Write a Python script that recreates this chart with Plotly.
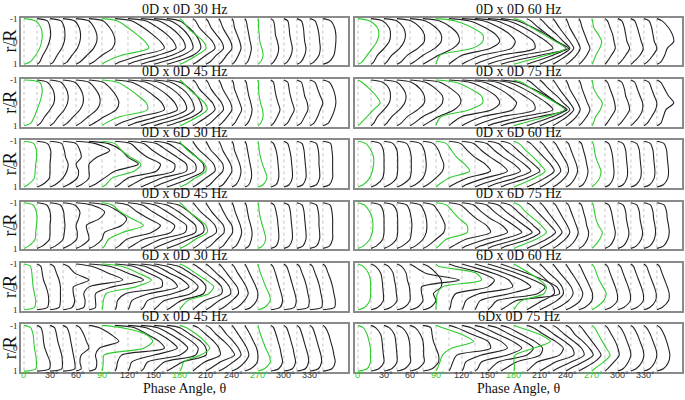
import plotly.graph_objects as go

# phase angles of the profiles (deg) and radial stations r/R
ANGLES = list(range(0, 360, 15))
R_IN = [-0.9, -0.6, -0.3, 0, 0.3, 0.6, 0.9]
TICK_ANGLES = list(range(0, 360, 30))
GREEN_ANGLES = [0, 90, 180, 270]

TITLES = ["0D x 0D 30 Hz", "0D x 0D 60 Hz",
          "0D x 0D 45 Hz", "0D x 0D 75 Hz",
          "0D x 6D 30 Hz", "0D x 6D 60 Hz",
          "0D x 6D 45 Hz", "0D x 6D 75 Hz",
          "6D x 0D 30 Hz", "6D x 0D 60 Hz",
          "6D x 0D 45 Hz", "6Dx 0D 75 Hz"]

# profile displacement (in 15 deg steps) at R_IN, one row per phase angle
P_00_30 = [
    [0.9, 1.3, 1.4, 1.35, 1.2, 0.9, 0.45],
    [0.8, 1.0, 1.05, 0.95, 0.75, 0.45, 0.2],
    [0.85, 1.1, 1.15, 1.1, 0.9, 0.55, 0.25],
    [0.9, 1.25, 1.35, 1.3, 1.1, 0.7, 0.3],
    [1.0, 1.4, 1.6, 1.6, 1.35, 0.85, 0.3],
    [1.1, 1.6, 1.9, 2.0, 1.8, 1.0, 0.35],
    [1.2, 2.0, 2.7, 3.3, 3.6, 1.5, 0.25],
    [1.3, 2.2, 2.9, 3.5, 3.8, 2.0, 0.35],
    [1.4, 2.3, 3.0, 3.5, 3.7, 2.3, 0.45],
    [1.4, 2.3, 2.9, 3.3, 3.4, 2.4, 0.55],
    [1.3, 2.1, 2.6, 2.9, 3.0, 2.2, 0.6],
    [1.0, 1.7, 2.2, 2.5, 2.6, 2.0, 0.6],
    [0.2, 0.6, 1.2, 1.8, 2.0, 1.3, 0.4],
    [0.2, 0.5, 1.0, 1.5, 1.7, 1.0, 0.3],
    [0.15, 0.4, 0.8, 1.2, 1.35, 0.8, 0.3],
    [0.1, 0.3, 0.6, 0.9, 1.0, 0.6, 0.2],
    [0.1, 0.2, 0.4, 0.6, 0.7, 0.5, 0.2],
    [0.1, 0.2, 0.3, 0.4, 0.5, 0.4, 0.2],
    [0.05, 0.05, 0.1, 0.15, 0.3, 0.4, 0.2],
    [0.2, 0.3, 0.35, 0.5, 0.6, 0.5, 0.2],
    [0.3, 0.4, 0.45, 0.55, 0.65, 0.55, 0.25],
    [0.35, 0.5, 0.55, 0.6, 0.7, 0.6, 0.3],
    [0.4, 0.6, 0.7, 0.75, 0.8, 0.7, 0.3],
    [0.6, 0.9, 1.0, 1.0, 0.95, 0.85, 0.45],
]
P_00_60 = [
    [0.9, 1.5, 1.6, 1.45, 1.1, 0.7, 0.3],
    [0.9, 1.4, 1.5, 1.4, 1.0, 0.5, 0.2],
    [1.0, 1.5, 1.65, 1.55, 1.2, 0.6, 0.2],
    [1.1, 1.8, 2.1, 2.1, 1.6, 0.8, 0.3],
    [1.2, 2.0, 2.4, 2.4, 1.9, 1.0, 0.3],
    [1.3, 2.2, 2.7, 2.8, 2.3, 1.2, 0.3],
    [1.5, 2.8, 3.6, 3.6, 2.8, 0.3, 0.05],
    [1.6, 2.8, 3.6, 3.9, 3.2, 1.0, 0.2],
    [1.7, 2.9, 3.7, 4.1, 3.8, 1.5, 0.3],
    [1.7, 2.9, 3.8, 4.5, 4.6, 2.0, 0.4],
    [1.6, 2.8, 3.7, 4.5, 5.0, 2.6, 0.5],
    [1.3, 2.5, 3.5, 4.3, 5.2, 3.0, 0.6],
    [0.6, 1.4, 2.3, 3.2, 4.0, 2.5, 0.6],
    [0.3, 0.9, 1.6, 2.3, 3.0, 2.0, 0.5],
    [0.2, 0.7, 1.3, 1.8, 2.3, 1.6, 0.4],
    [0.15, 0.5, 0.9, 1.3, 1.6, 1.1, 0.3],
    [0.1, 0.3, 0.6, 0.9, 1.1, 0.8, 0.25],
    [0.1, 0.25, 0.45, 0.65, 0.85, 0.6, 0.2],
    [0.05, 0.15, 0.5, 0.75, 0.6, 0.3, 0.1],
    [0.2, 0.4, 0.6, 0.7, 0.8, 0.5, 0.15],
    [0.3, 0.5, 0.6, 0.7, 0.9, 0.6, 0.2],
    [0.3, 0.5, 0.65, 0.8, 0.95, 0.7, 0.2],
    [0.4, 0.6, 0.7, 0.8, 1.0, 0.7, 0.25],
    [0.4, 0.9, 1.2, 1.3, 0.8, 0.6, 0.3],
]
P_00_45 = [
    [1.2, 1.4, 1.35, 1.2, 1.0, 0.8, 0.5],
    [0.8, 1.2, 1.35, 1.3, 1.0, 0.6, 0.25],
    [0.85, 1.25, 1.4, 1.35, 1.1, 0.65, 0.25],
    [0.9, 1.35, 1.55, 1.55, 1.3, 0.8, 0.3],
    [1.0, 1.5, 1.8, 1.85, 1.6, 0.95, 0.3],
    [1.1, 1.7, 2.1, 2.3, 2.1, 1.2, 0.35],
    [1.2, 2.1, 2.8, 3.4, 3.5, 1.4, 0.25],
    [1.3, 2.3, 3.0, 3.6, 3.8, 1.9, 0.35],
    [1.4, 2.4, 3.1, 3.6, 3.8, 2.3, 0.45],
    [1.4, 2.4, 3.0, 3.4, 3.5, 2.4, 0.55],
    [1.3, 2.2, 2.7, 3.0, 3.1, 2.3, 0.6],
    [1.0, 1.8, 2.3, 2.6, 2.7, 2.0, 0.6],
    [0.2, 0.7, 1.3, 1.9, 2.1, 1.4, 0.4],
    [0.2, 0.5, 1.0, 1.5, 1.7, 1.1, 0.3],
    [0.15, 0.4, 0.8, 1.2, 1.35, 0.85, 0.3],
    [0.1, 0.3, 0.6, 0.9, 1.0, 0.65, 0.2],
    [0.1, 0.2, 0.4, 0.6, 0.75, 0.5, 0.2],
    [0.1, 0.2, 0.3, 0.45, 0.55, 0.45, 0.2],
    [0.05, 0.05, 0.1, 0.2, 0.35, 0.4, 0.2],
    [0.2, 0.3, 0.4, 0.55, 0.7, 0.5, 0.2],
    [0.3, 0.4, 0.5, 0.65, 0.8, 0.55, 0.25],
    [0.35, 0.5, 0.6, 0.8, 0.85, 0.6, 0.3],
    [0.4, 0.6, 0.8, 1.0, 0.8, 0.6, 0.3],
    [0.5, 0.8, 0.95, 1.0, 0.9, 0.7, 0.4],
]
P_00_75 = [
    [0.3, 0.9, 1.4, 1.7, 1.2, 0.7, 0.2],
    [0.9, 1.4, 1.5, 1.4, 1.0, 0.5, 0.2],
    [1.0, 1.5, 1.7, 1.6, 1.2, 0.6, 0.2],
    [1.1, 1.8, 2.1, 2.1, 1.6, 0.8, 0.3],
    [1.2, 2.0, 2.5, 2.5, 2.0, 1.0, 0.3],
    [1.3, 2.2, 2.8, 2.9, 2.4, 1.2, 0.3],
    [1.5, 2.7, 3.5, 3.6, 2.6, 0.4, 0.05],
    [1.6, 2.8, 3.6, 3.9, 3.3, 1.0, 0.2],
    [1.7, 2.9, 3.7, 4.2, 3.9, 1.6, 0.3],
    [1.7, 2.9, 3.8, 4.5, 4.6, 2.1, 0.4],
    [1.6, 2.8, 3.7, 4.5, 5.0, 2.7, 0.5],
    [1.3, 2.5, 3.5, 4.3, 5.1, 3.0, 0.6],
    [0.6, 1.4, 2.3, 3.2, 3.9, 2.5, 0.6],
    [0.3, 0.9, 1.6, 2.3, 3.0, 2.0, 0.5],
    [0.2, 0.7, 1.3, 1.8, 2.3, 1.6, 0.4],
    [0.15, 0.5, 0.9, 1.3, 1.6, 1.1, 0.3],
    [0.1, 0.3, 0.6, 0.9, 1.1, 0.8, 0.25],
    [0.1, 0.25, 0.45, 0.65, 0.85, 0.6, 0.2],
    [0.05, 0.15, 0.45, 0.8, 0.65, 0.3, 0.1],
    [0.2, 0.4, 0.6, 0.75, 0.8, 0.5, 0.15],
    [0.3, 0.5, 0.6, 0.8, 0.9, 0.6, 0.2],
    [0.3, 0.5, 0.7, 0.9, 0.9, 0.65, 0.2],
    [0.4, 0.6, 0.8, 1.0, 0.9, 0.6, 0.25],
    [0.3, 0.6, 0.9, 1.3, 0.7, 0.5, 0.3],
]
P_06_30 = [
    [0.75, 0.95, 0.97, 0.9, 0.85, 0.8, 0.3],
    [0.8, 1.05, 1.05, 1.0, 1.0, 0.95, 0.4],
    [0.9, 1.1, 1.2, 1.4, 1.3, 1.0, 0.4],
    [1.0, 1.3, 1.4, 1.0, 1.2, 1.1, 0.4],
    [1.5, 2.6, 1.6, 1.0, 1.0, 1.0, 0.4],
    [1.5, 2.5, 3.0, 3.8, 2.0, 1.2, 0.4],
    [1.0, 1.5, 2.2, 3.0, 2.5, 0.8, 0.3],
    [1.2, 1.8, 2.5, 3.5, 3.2, 1.0, 0.3],
    [1.2, 1.9, 2.7, 3.6, 3.5, 1.3, 0.3],
    [1.2, 2.0, 2.8, 3.5, 3.5, 1.6, 0.4],
    [1.1, 1.9, 2.6, 3.2, 3.2, 1.8, 0.4],
    [1.0, 1.7, 2.3, 2.8, 2.8, 1.8, 0.5],
    [0.1, 0.6, 1.3, 1.9, 2.0, 1.2, 0.4],
    [0.1, 0.5, 1.1, 1.6, 1.7, 1.0, 0.3],
    [0.1, 0.4, 0.9, 1.3, 1.3, 0.8, 0.3],
    [0.1, 0.3, 0.6, 0.9, 1.0, 0.7, 0.3],
    [0.1, 0.2, 0.4, 0.6, 0.7, 0.6, 0.3],
    [0.1, 0.2, 0.3, 0.4, 0.5, 0.5, 0.3],
    [0.05, 0.1, 0.2, 0.35, 0.55, 0.7, 0.4],
    [0.2, 0.4, 0.5, 0.55, 0.6, 0.6, 0.4],
    [0.3, 0.45, 0.55, 0.6, 0.65, 0.65, 0.4],
    [0.4, 0.55, 0.6, 0.65, 0.7, 0.7, 0.45],
    [0.5, 0.65, 0.7, 0.7, 0.75, 0.75, 0.5],
    [0.6, 0.7, 0.75, 0.75, 0.75, 0.75, 0.5],
]
P_06_60 = [
    [0.6, 1.0, 1.2, 1.2, 1.1, 0.9, 0.4],
    [0.7, 0.95, 1.0, 1.0, 1.0, 0.9, 0.4],
    [0.7, 1.0, 1.05, 1.05, 1.05, 0.95, 0.4],
    [0.75, 1.0, 1.1, 1.1, 1.1, 1.0, 0.4],
    [0.8, 1.1, 1.2, 1.25, 1.2, 1.0, 0.4],
    [0.8, 1.2, 1.4, 1.6, 1.5, 1.0, 0.35],
    [0.8, 1.2, 1.6, 2.2, 2.6, 1.0, 0.2],
    [0.9, 1.4, 2.0, 2.8, 3.2, 1.4, 0.3],
    [0.9, 1.5, 2.2, 3.0, 3.5, 1.8, 0.3],
    [0.9, 1.5, 2.2, 3.0, 3.5, 2.0, 0.4],
    [0.8, 1.4, 2.1, 2.8, 3.3, 2.1, 0.4],
    [0.7, 1.3, 1.9, 2.5, 3.0, 2.0, 0.4],
    [0.4, 0.9, 1.5, 2.0, 2.4, 1.6, 0.4],
    [0.3, 0.8, 1.3, 1.8, 2.1, 1.4, 0.4],
    [0.2, 0.6, 1.0, 1.4, 1.6, 1.1, 0.35],
    [0.2, 0.5, 0.8, 1.1, 1.2, 0.9, 0.3],
    [0.2, 0.4, 0.6, 0.8, 0.9, 0.7, 0.3],
    [0.2, 0.35, 0.5, 0.6, 0.7, 0.6, 0.3],
    [0.1, 0.2, 0.3, 0.5, 0.7, 0.6, 0.2],
    [0.3, 0.5, 0.6, 0.65, 0.7, 0.65, 0.35],
    [0.4, 0.6, 0.65, 0.7, 0.75, 0.7, 0.4],
    [0.45, 0.65, 0.7, 0.75, 0.8, 0.75, 0.4],
    [0.5, 0.7, 0.75, 0.8, 0.85, 0.8, 0.45],
    [0.55, 0.75, 0.8, 0.85, 0.9, 0.85, 0.5],
]
P_06_45 = [
    [0.7, 0.95, 1.0, 0.95, 0.9, 0.85, 0.35],
    [0.75, 1.0, 1.05, 1.0, 1.0, 0.95, 0.4],
    [0.8, 1.05, 1.1, 1.15, 1.1, 1.0, 0.4],
    [0.9, 1.3, 1.2, 1.0, 1.1, 1.05, 0.4],
    [1.2, 2.2, 1.8, 0.8, 0.9, 1.0, 0.4],
    [1.3, 2.3, 2.9, 2.5, 1.2, 1.0, 0.4],
    [0.8, 1.4, 2.3, 3.2, 1.6, 0.5, 0.2],
    [1.0, 1.7, 2.6, 3.5, 2.8, 0.9, 0.3],
    [1.1, 1.9, 2.8, 3.6, 3.3, 1.2, 0.3],
    [1.1, 2.0, 2.8, 3.5, 3.4, 1.5, 0.4],
    [1.0, 1.9, 2.6, 3.2, 3.2, 1.7, 0.4],
    [0.9, 1.7, 2.3, 2.8, 2.8, 1.7, 0.5],
    [0.2, 0.7, 1.4, 2.0, 2.1, 1.2, 0.4],
    [0.15, 0.6, 1.2, 1.7, 1.8, 1.0, 0.3],
    [0.1, 0.45, 0.9, 1.35, 1.4, 0.85, 0.3],
    [0.1, 0.35, 0.65, 1.0, 1.05, 0.7, 0.3],
    [0.1, 0.25, 0.45, 0.65, 0.75, 0.6, 0.3],
    [0.1, 0.2, 0.3, 0.45, 0.55, 0.5, 0.3],
    [0.05, 0.1, 0.2, 0.35, 0.5, 0.6, 0.35],
    [0.25, 0.4, 0.5, 0.55, 0.6, 0.6, 0.4],
    [0.35, 0.5, 0.55, 0.6, 0.65, 0.65, 0.4],
    [0.4, 0.55, 0.6, 0.65, 0.7, 0.7, 0.45],
    [0.5, 0.65, 0.7, 0.7, 0.75, 0.75, 0.5],
    [0.55, 0.7, 0.75, 0.75, 0.75, 0.75, 0.5],
]
P_06_75 = [
    [0.5, 0.9, 1.1, 1.15, 1.1, 0.9, 0.4],
    [0.7, 0.95, 1.0, 1.0, 1.0, 0.9, 0.4],
    [0.7, 1.0, 1.05, 1.05, 1.05, 0.95, 0.4],
    [0.75, 1.0, 1.1, 1.15, 1.1, 1.0, 0.4],
    [0.8, 1.1, 1.25, 1.3, 1.25, 1.0, 0.4],
    [0.8, 1.2, 1.5, 1.7, 1.6, 1.0, 0.35],
    [0.8, 1.3, 1.8, 2.4, 2.4, 0.8, 0.2],
    [0.9, 1.5, 2.1, 2.9, 3.2, 1.3, 0.3],
    [0.9, 1.5, 2.2, 3.1, 3.5, 1.8, 0.3],
    [0.9, 1.5, 2.2, 3.0, 3.6, 2.1, 0.4],
    [0.8, 1.4, 2.1, 2.8, 3.4, 2.2, 0.4],
    [0.7, 1.3, 1.9, 2.5, 3.0, 2.1, 0.4],
    [0.4, 0.9, 1.5, 2.1, 2.5, 1.7, 0.4],
    [0.3, 0.8, 1.3, 1.8, 2.2, 1.5, 0.4],
    [0.2, 0.6, 1.0, 1.4, 1.7, 1.2, 0.35],
    [0.2, 0.5, 0.8, 1.1, 1.3, 0.95, 0.3],
    [0.2, 0.4, 0.6, 0.8, 0.95, 0.75, 0.3],
    [0.2, 0.35, 0.5, 0.6, 0.75, 0.65, 0.3],
    [0.1, 0.2, 0.3, 0.5, 0.8, 0.6, 0.2],
    [0.3, 0.5, 0.6, 0.7, 0.8, 0.7, 0.35],
    [0.4, 0.6, 0.65, 0.75, 0.85, 0.75, 0.4],
    [0.45, 0.65, 0.7, 0.8, 0.9, 0.8, 0.4],
    [0.5, 0.7, 0.75, 0.85, 0.9, 0.8, 0.45],
    [0.55, 0.75, 0.8, 0.9, 0.95, 0.85, 0.5],
]
P_60_30 = [
    [0.5, 0.6, 0.65, 0.7, 0.8, 0.9, 0.8],
    [0.3, 0.4, 0.5, 0.7, 0.85, 0.9, 0.8],
    [0.3, 0.5, 0.7, 0.8, 0.8, 0.8, 0.7],
    [0.4, 0.9, 2.0, 0.8, 0.8, 0.9, 0.7],
    [1.2, 2.5, 3.6, 1.0, 0.6, 0.7, 0.6],
    [1.6, 3.0, 4.2, 1.8, 0.5, 0.5, 0.5],
    [1.5, 2.8, 3.8, 2.6, 0.3, 0.1, 0.05],
    [1.4, 2.6, 3.6, 3.6, 0.8, 0.2, 0.1],
    [1.3, 2.4, 3.4, 3.8, 1.6, 0.3, 0.1],
    [1.2, 2.2, 3.2, 3.7, 2.4, 0.5, 0.2],
    [1.0, 2.0, 2.9, 3.4, 2.8, 0.8, 0.2],
    [0.9, 1.8, 2.6, 3.0, 2.8, 1.1, 0.3],
    [0.4, 1.2, 2.0, 2.6, 2.2, 0.6, 0.1],
    [0.3, 1.0, 1.7, 2.2, 2.2, 0.9, 0.2],
    [0.25, 0.8, 1.4, 1.8, 1.9, 1.0, 0.3],
    [0.2, 0.6, 1.0, 1.4, 1.5, 1.0, 0.35],
    [0.15, 0.45, 0.8, 1.1, 1.25, 0.95, 0.4],
    [0.1, 0.35, 0.6, 0.85, 1.0, 0.9, 0.45],
    [0.05, 0.2, 0.4, 0.6, 0.85, 0.95, 0.5],
    [0.15, 0.35, 0.5, 0.65, 0.8, 0.9, 0.7],
    [0.2, 0.4, 0.55, 0.7, 0.85, 0.95, 0.8],
    [0.2, 0.4, 0.6, 0.75, 0.85, 0.95, 0.85],
    [0.2, 0.4, 0.6, 0.75, 0.85, 0.95, 0.9],
    [0.2, 0.4, 0.6, 0.75, 0.85, 0.95, 0.9],
]
P_60_60 = [
    [0.4, 0.8, 0.95, 0.97, 0.97, 0.9, 0.5],
    [0.35, 0.75, 0.85, 0.9, 0.95, 0.95, 0.5],
    [0.35, 0.7, 0.8, 0.9, 0.95, 1.0, 0.5],
    [0.35, 0.7, 0.8, 0.95, 1.0, 1.0, 0.55],
    [0.3, 1.2, 3.8, 0.9, 0.9, 1.0, 0.55],
    [0.4, 1.0, 1.4, 1.4, 0.8, 1.0, 0.55],
    [0.2, 3.1, 3.5, 0.5, 0.1, 0.05, 0.0],
    [0.5, 2.5, 3.5, 3.0, 0.5, 0.2, 0.1],
    [0.6, 2.4, 3.6, 3.9, 1.3, 0.3, 0.1],
    [0.6, 2.3, 3.6, 4.3, 2.6, 0.4, 0.1],
    [0.6, 2.2, 3.5, 4.4, 3.8, 0.7, 0.2],
    [0.5, 2.0, 3.3, 4.3, 4.5, 1.2, 0.3],
    [0.3, 1.2, 2.0, 2.5, 2.3, 0.6, 0.1],
    [0.2, 0.9, 1.5, 2.0, 2.1, 1.2, 0.3],
    [0.2, 0.7, 1.3, 1.7, 1.8, 1.3, 0.35],
    [0.15, 0.55, 1.0, 1.4, 1.55, 1.2, 0.4],
    [0.1, 0.45, 0.8, 1.1, 1.3, 1.1, 0.4],
    [0.1, 0.35, 0.6, 0.85, 1.05, 1.0, 0.45],
    [0.15, 0.35, 0.55, 0.85, 1.1, 0.9, 0.3],
    [0.2, 0.4, 0.6, 0.8, 0.95, 0.95, 0.45],
    [0.2, 0.4, 0.6, 0.8, 0.95, 0.95, 0.45],
    [0.2, 0.4, 0.6, 0.8, 0.95, 0.95, 0.45],
    [0.2, 0.4, 0.6, 0.8, 0.95, 0.9, 0.45],
    [0.2, 0.4, 0.6, 0.8, 0.95, 0.9, 0.4],
]
P_60_45 = [
    [0.5, 0.7, 0.75, 0.8, 0.9, 0.95, 0.9],
    [0.3, 0.45, 0.5, 0.6, 0.8, 1.0, 0.95],
    [0.35, 0.5, 0.6, 0.75, 0.9, 0.95, 0.9],
    [0.3, 0.5, 0.6, 0.7, 0.8, 0.9, 0.9],
    [0.3, 0.6, 0.8, 1.0, 0.4, 0.3, 0.4],
    [0.8, 1.7, 2.3, 0.8, 0.5, 0.6, 0.5],
    [1.5, 3.4, 3.9, 3.2, 0.15, 0.1, 0.05],
    [1.5, 2.5, 3.4, 3.8, 0.5, 0.2, 0.1],
    [1.4, 2.5, 3.3, 3.8, 2.0, 0.3, 0.1],
    [1.3, 2.3, 3.1, 3.6, 3.0, 0.5, 0.2],
    [1.2, 2.1, 2.9, 3.4, 3.2, 0.8, 0.2],
    [1.0, 1.8, 2.6, 3.0, 3.0, 1.2, 0.3],
    [0.5, 1.3, 1.9, 2.3, 1.6, 0.3, 0.1],
    [0.4, 1.0, 1.6, 2.0, 2.1, 0.9, 0.2],
    [0.3, 0.8, 1.4, 1.9, 2.2, 1.1, 0.3],
    [0.2, 0.6, 1.1, 1.5, 1.7, 1.1, 0.35],
    [0.15, 0.5, 0.85, 1.15, 1.3, 1.0, 0.4],
    [0.1, 0.4, 0.65, 0.9, 1.0, 0.95, 0.45],
    [0.05, 0.2, 0.4, 0.6, 0.85, 0.95, 0.5],
    [0.2, 0.4, 0.55, 0.7, 0.8, 0.9, 0.6],
    [0.2, 0.4, 0.55, 0.7, 0.8, 0.9, 0.65],
    [0.2, 0.4, 0.55, 0.7, 0.85, 0.9, 0.65],
    [0.2, 0.4, 0.55, 0.7, 0.85, 0.9, 0.65],
    [0.2, 0.45, 0.6, 0.75, 0.85, 0.95, 0.7],
]
P_60_75 = [
    [0.4, 0.7, 0.85, 0.95, 0.95, 0.95, 0.7],
    [0.35, 0.75, 0.85, 0.9, 0.95, 1.0, 0.6],
    [0.4, 0.8, 0.9, 0.95, 1.0, 1.0, 0.6],
    [0.4, 0.8, 0.95, 1.0, 1.0, 1.05, 0.6],
    [0.4, 0.8, 1.0, 1.05, 1.05, 1.1, 0.6],
    [0.6, 0.7, 0.8, 1.0, 1.2, 1.2, 0.7],
    [0.5, 2.0, 2.9, 1.2, 0.5, 0.3, 0.1],
    [0.6, 1.8, 3.0, 3.2, 0.6, 0.3, 0.1],
    [0.7, 1.8, 3.0, 3.5, 1.5, 0.3, 0.1],
    [0.7, 1.8, 2.9, 3.6, 2.5, 0.5, 0.2],
    [0.7, 1.7, 2.8, 3.5, 3.0, 0.8, 0.2],
    [0.6, 1.6, 2.6, 3.2, 3.0, 1.2, 0.3],
    [0.5, 2.0, 2.8, 1.5, 0.1, 0.0, 0.05],
    [0.5, 1.3, 2.2, 2.8, 2.5, 0.8, 0.2],
    [0.4, 1.1, 1.9, 2.5, 2.6, 1.2, 0.3],
    [0.3, 0.9, 1.6, 2.2, 2.4, 1.4, 0.3],
    [0.3, 0.7, 1.3, 1.8, 2.1, 1.3, 0.3],
    [0.2, 0.6, 1.0, 1.4, 1.7, 1.2, 0.3],
    [0.2, 0.5, 0.8, 1.1, 1.4, 0.9, 0.2],
    [0.2, 0.5, 0.8, 1.0, 1.1, 0.7, 0.2],
    [0.2, 0.5, 0.7, 0.9, 1.0, 0.8, 0.4],
    [0.2, 0.5, 0.7, 0.9, 1.0, 0.85, 0.4],
    [0.2, 0.5, 0.7, 0.9, 1.0, 0.85, 0.45],
    [0.25, 0.55, 0.75, 0.9, 1.0, 0.9, 0.5],
]
PANELS = [P_00_30, P_00_60, P_00_45, P_00_75, P_06_30, P_06_60,
          P_06_45, P_06_75, P_60_30, P_60_60, P_60_45, P_60_75]

STEP = 15
BLACK = "#222222"
GREEN = "#2ecc2e"
SERIF = "Liberation Serif"

fig = go.Figure()

W, H = 685, 400
COL_X = [(21, 348), (355, 682)]
ROW_TOP = [14 + 62.6 * r for r in range(6)]
BOX_H = 48.5

for i, data in enumerate(PANELS):
    row, col = divmod(i, 2)
    n = str(i + 1) if i else ""
    xa, ya = "x" + n, "y" + n

    # dotted baselines
    bx, by = [], []
    for a in ANGLES:
        bx += [a, a, None]
        by += [-1, 1, None]
    fig.add_trace(go.Scatter(x=bx, y=by, mode="lines", xaxis=xa, yaxis=ya,
                             line=dict(color="#b5b5b5", width=0.8, dash="dot"),
                             hoverinfo="skip", showlegend=False))

    for green in (False, True):
        px, py = [], []
        for a, prof in zip(ANGLES, data):
            if (a in GREEN_ANGLES) != green:
                continue
            u = [0] + prof + [0]
            rr = [-1] + R_IN + [1]
            px += [a + STEP * v for v in u] + [None]
            py += rr + [None]
        fig.add_trace(go.Scatter(x=px, y=py, mode="lines", xaxis=xa, yaxis=ya,
                                 line=dict(color=GREEN if green else BLACK,
                                           width=1.1, shape="spline", smoothing=0.8),
                                 hoverinfo="skip", showlegend=False))

    x0, x1 = COL_X[col]
    top = ROW_TOP[row]
    bot = top + BOX_H
    fig.layout["xaxis" + n] = dict(
        domain=[x0 / W, x1 / W], anchor=ya, range=[-3.5, 374],
        showline=True, mirror=True, linecolor="#8a8a8a", linewidth=1.5,
        showgrid=False, zeroline=False, ticks="", showticklabels=False,
    )
    fig.layout["yaxis" + n] = dict(
        domain=[1 - bot / H, 1 - top / H], anchor=xa, range=[1.04, -1.04],
        showline=True, mirror=True, linecolor="#8a8a8a", linewidth=1.5,
        showgrid=False, zeroline=False, ticks="",
        tickvals=[-1, 0, 1] if col == 0 else [],
        ticktext=["-1", "0", "1"] if col == 0 else [],
        tickfont=dict(family=SERIF, size=9, color="#222222"),
    )
    fig.add_annotation(x=(x0 + x1) / 2 / W, y=1 - (top - 8) / H, xref="paper", yref="paper",
                       text=TITLES[i], showarrow=False, xanchor="center", yanchor="middle",
                       font=dict(family=SERIF, size=14, color="#111111"))
    if col == 0:
        fig.add_annotation(x=10 / W, y=1 - (top + BOX_H / 2) / H, xref="paper", yref="paper",
                           text="r/R", textangle=-90, showarrow=False,
                           xanchor="center", yanchor="middle",
                           font=dict(family=SERIF, size=18, color="#111111"))
    if row == 5:
        for t in TICK_ANGLES:
            fig.add_annotation(x=t + 2, y=1 - 379 / H, xref=xa, yref="paper",
                               text=f"{t}°", showarrow=False, xanchor="center", yanchor="middle",
                               font=dict(family="Liberation Sans", size=9,
                                         color=GREEN if t in GREEN_ANGLES else "#333333"))

for col in range(2):
    x0, x1 = COL_X[col]
    fig.add_annotation(x=(x0 + x1) / 2 / W, y=1 - 392.5 / H, xref="paper", yref="paper",
                       text="Phase Angle, θ", showarrow=False, xanchor="center", yanchor="middle",
                       font=dict(family=SERIF, size=14, color="#111111"))

fig.update_layout(width=W, height=H, margin=dict(l=0, r=0, t=0, b=0),
                  paper_bgcolor="white", plot_bgcolor="white")
fig.write_html("out.html", config={"displayModeBar": False},
               post_script="document.body.style.margin='0';")
